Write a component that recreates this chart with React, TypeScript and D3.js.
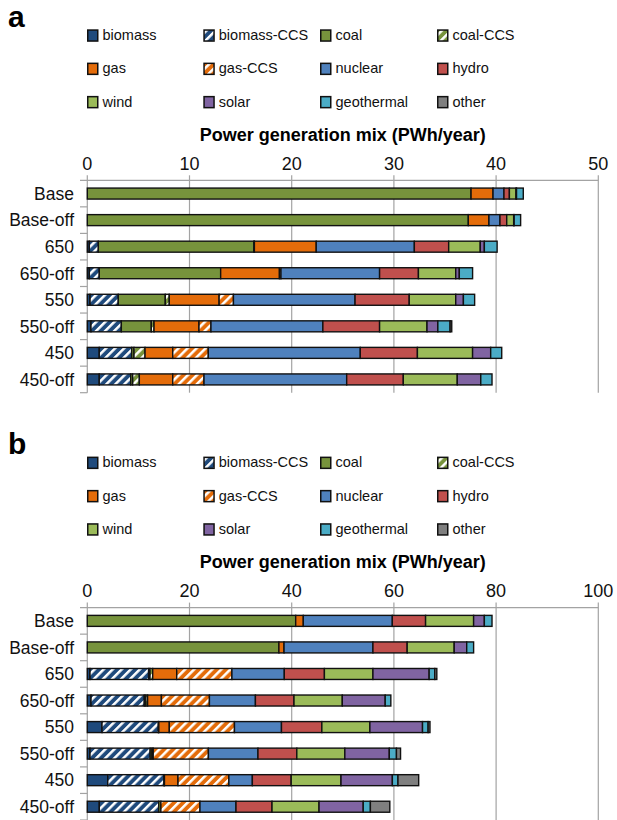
import React from 'react';
import * as d3 from 'd3';

const categories = ['Base', 'Base-off', '650', '650-off', '550', '550-off', '450', '450-off'];
const seriesNames = ['biomass', 'biomass-CCS', 'coal', 'coal-CCS', 'gas', 'gas-CCS', 'nuclear', 'hydro', 'wind', 'solar', 'geothermal', 'other'];
const ticksA = [0, 10, 20, 30, 40, 50];
const ticksB = [0, 20, 40, 60, 80, 100];
const axisTitle = 'Power generation mix (PWh/year)';

// Panel a values (PWh/year), one array per series, in category order
const aBiomass = [0, 0, 0.2, 0.2, 0.27, 0.36, 1.17, 1.17];
const aBiomassCCS = [0, 0, 0.88, 0.97, 2.76, 2.97, 3.17, 3.08];
const aCoal = [37.55, 37.28, 15.22, 11.88, 4.6, 2.93, 0.23, 0.19];
const aCoalCCS = [0, 0, 0.05, 0, 0.39, 0.27, 1.08, 0.65];
const aGas = [2.15, 2.02, 6.05, 5.75, 4.88, 4.4, 2.71, 3.27];
const aGasCCS = [0, 0, 0, 0.15, 1.4, 1.17, 3.48, 3.06];
const aNuclear = [1.07, 1.08, 9.6, 9.65, 11.9, 10.95, 14.87, 13.96];
const aHydro = [0.53, 0.66, 3.36, 3.8, 5.3, 5.55, 5.59, 5.54];
const aWind = [0.65, 0.68, 3.09, 3.65, 4.55, 4.64, 5.4, 5.28];
const aSolar = [0.05, 0.05, 0.4, 0.35, 0.75, 1.06, 1.77, 2.3];
const aGeothermal = [0.66, 0.63, 1.25, 1.3, 1.1, 1.2, 1.08, 1.1];
const aOther = [0, 0, 0, 0, 0, 0.16, 0, 0];

// Panel b values (PWh/year)
const bBiomass = [0, 0, 0.53, 0.73, 2.88, 0.53, 4.0, 2.35];
const bBiomassCCS = [0, 0, 11.47, 10.42, 11.02, 11.77, 11.0, 11.62];
const bCoal = [40.78, 37.5, 0.27, 0.3, 0.1, 0.35, 0.1, 0.43];
const bCoalCCS = [0, 0, 0.53, 0.35, 0, 0, 0, 0];
const bGas = [1.49, 1.0, 4.7, 2.7, 2.05, 0.25, 2.65, 0];
const bGasCCS = [0, 0, 10.8, 9.4, 12.75, 10.8, 9.95, 7.65];
const bNuclear = [17.42, 17.4, 10.25, 9.0, 9.2, 9.7, 4.6, 7.05];
const bHydro = [6.51, 6.7, 7.85, 7.55, 7.9, 7.6, 7.6, 7.05];
const bWind = [9.4, 9.2, 9.5, 9.45, 9.4, 9.4, 9.75, 9.2];
const bSolar = [2.1, 2.45, 11.0, 8.4, 10.3, 8.7, 10.05, 8.65];
const bGeothermal = [1.5, 1.35, 1.1, 1.1, 1.1, 1.4, 1.1, 1.4];
const bOther = [0, 0, 0.4, 0, 0.36, 0.8, 4.05, 3.8];

const seriesA = [aBiomass, aBiomassCCS, aCoal, aCoalCCS, aGas, aGasCCS, aNuclear, aHydro, aWind, aSolar, aGeothermal, aOther];
const seriesB = [bBiomass, bBiomassCCS, bCoal, bCoalCCS, bGas, bGasCCS, bNuclear, bHydro, bWind, bSolar, bGeothermal, bOther];

// styles
const colors = ['#1f4a7c', '#1f4a7c', '#77933c', '#77933c', '#e46c0a', '#e46c0a', '#4f81bd', '#c0504d', '#9bbb59', '#8064a2', '#4bacc6', '#7f7f7f'];
const hatched = [false, true, false, true, false, true, false, false, false, false, false, false];

const FONT = "'Liberation Sans', Arial, Helvetica, sans-serif";

function fillFor(i: number) {
  return hatched[i] ? `url(#hatch-${i})` : colors[i];
}

function Panel({ offsetY, letter, values, maxV, ticks }: { offsetY: number; letter: string; values: number[][]; maxV: number; ticks: number[] }) {
  const axisY = 180.3;
  const step = 26.55;
  const x0 = 87.3;
  const x = d3.scaleLinear().domain([0, maxV]).range([x0, x0 + 511]);
  const y = d3
    .scaleBand<string>()
    .domain(categories)
    .range([axisY, axisY + step * categories.length])
    .paddingInner(0.586)
    .paddingOuter(0.293);
  const rows = categories.map((c, ci) => {
    const r: Record<string, number | string> = { cat: c };
    seriesNames.forEach((s, si) => (r[s] = values[si][ci]));
    return r;
  });
  const stacked = d3.stack<any>().keys(seriesNames)(rows as any);
  const bottom = axisY + step * categories.length;
  const legendX = [87, 203.3, 320, 437];
  const legendY = [29.3, 62.6, 95.9];

  return (
    <g transform={`translate(0,${offsetY})`}>
      <text x={8} y={27} fontSize={30} fontWeight="bold" fontFamily={FONT} fill="#000">
        {letter}
      </text>
      {seriesNames.map((s, i) => {
        const col = i % 4;
        const row = Math.floor(i / 4);
        const sx = legendX[col];
        const sy = legendY[row];
        return (
          <g key={s}>
            <rect x={sx + 0.75} y={sy + 0.75} width={10} height={11} fill={fillFor(i)} stroke="#111" strokeWidth={1.5} />
            <text x={sx + 15.5} y={sy + 10.8} fontSize={14.5} fontFamily={FONT} fill="#111">
              {s}
            </text>
          </g>
        );
      })}
      <text x={(x0 + x0 + 511) / 2} y={140.7} textAnchor="middle" fontSize={18} fontWeight="bold" fontFamily={FONT} fill="#000">
        {axisTitle}
      </text>
      {ticks.map((t) => (
        <g key={t}>
          <text x={x(t)} y={170} textAnchor="middle" fontSize={18} fontFamily={FONT} fill="#111">
            {t}
          </text>
          <line x1={x(t)} x2={x(t)} y1={axisY - 5} y2={bottom} stroke="#a3a3a3" strokeWidth={1.2} />
        </g>
      ))}
      <line x1={80} x2={x(maxV)} y1={axisY} y2={axisY} stroke="#a3a3a3" strokeWidth={1.2} />
      {categories.map((c, k) => (
        <line key={'t' + c} x1={80} x2={x0} y1={axisY + step * (k + 1)} y2={axisY + step * (k + 1)} stroke="#a3a3a3" strokeWidth={1.2} />
      ))}
      {categories.map((c) => (
        <text key={'l' + c} x={74} y={(y(c) as number) + y.bandwidth() / 2 + 6.3} textAnchor="end" fontSize={17.5} fontFamily={FONT} fill="#111">
          {c}
        </text>
      ))}
      {stacked.map((layer, si) =>
        layer.map((d, ci) => {
          const w = x(d[1]) - x(d[0]);
          if (w <= 0) return null;
          return (
            <rect
              key={si + '-' + ci}
              x={x(d[0])}
              y={y(categories[ci]) as number}
              width={w}
              height={y.bandwidth()}
              fill={fillFor(si)}
              stroke="#111"
              strokeWidth={1.4}
            />
          );
        })
      )}
    </g>
  );
}

export default function App() {
  return (
    <svg width={617} height={820} style={{ position: 'absolute', left: 0, top: 0, background: '#fff' }}>
      <defs>
        {colors.map((c, i) =>
          hatched[i] ? (
            <pattern key={i} id={`hatch-${i}`} patternUnits="userSpaceOnUse" width={6.4} height={6.4} patternTransform="rotate(45)">
              <rect x={0} y={0} width={6.4} height={6.4} fill={c} />
              <rect x={0} y={0} width={2.5} height={6.4} fill="#fff" />
            </pattern>
          ) : null
        )}
      </defs>
      <rect x={0} y={0} width={617} height={820} fill="#fff" />
      <Panel offsetY={0} letter="a" values={seriesA} maxV={50} ticks={ticksA} />
      <Panel offsetY={427.3} letter="b" values={seriesB} maxV={100} ticks={ticksB} />
    </svg>
  );
}
